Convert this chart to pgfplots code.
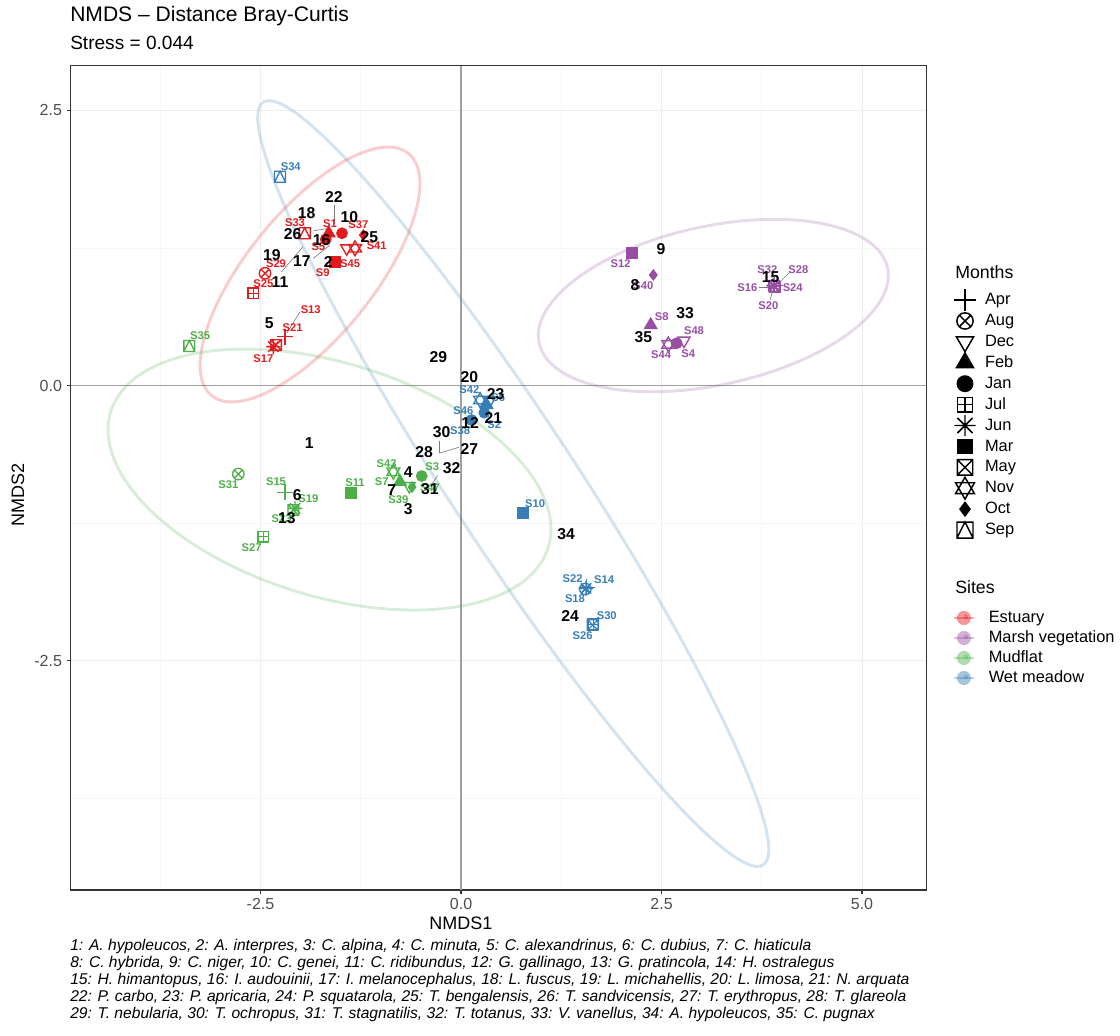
\documentclass[border=0pt]{standalone}
\usepackage{fontspec}
\setmainfont{Liberation Sans}
\usepackage{pgfplots}
\pgfplotsset{compat=1.18}
\usetikzlibrary{plotmarks}

\definecolor{cEst}{RGB}{228,26,28}
\definecolor{cMar}{RGB}{152,78,163}
\definecolor{cMud}{RGB}{77,175,74}
\definecolor{cWet}{RGB}{55,126,184}
\definecolor{gridc}{RGB}{237,237,237}
\definecolor{gridm}{RGB}{246,246,246}
\definecolor{g20}{RGB}{51,51,51}
\definecolor{g30}{RGB}{77,77,77}
\definecolor{refc}{RGB}{160,160,160}
\definecolor{segc}{RGB}{120,120,120}

\pgfdeclareplotmark{boxplus}{%
  \pgfpathrectangle{\pgfqpoint{-\pgfplotmarksize}{-\pgfplotmarksize}}{\pgfqpoint{2\pgfplotmarksize}{2\pgfplotmarksize}}%
  \pgfpathmoveto{\pgfqpoint{-\pgfplotmarksize}{0pt}}\pgfpathlineto{\pgfqpoint{\pgfplotmarksize}{0pt}}%
  \pgfpathmoveto{\pgfqpoint{0pt}{-\pgfplotmarksize}}\pgfpathlineto{\pgfqpoint{0pt}{\pgfplotmarksize}}%
  \pgfusepathqstroke}
\pgfdeclareplotmark{boxtimes}{%
  \pgfpathrectangle{\pgfqpoint{-\pgfplotmarksize}{-\pgfplotmarksize}}{\pgfqpoint{2\pgfplotmarksize}{2\pgfplotmarksize}}%
  \pgfpathmoveto{\pgfqpoint{-\pgfplotmarksize}{-\pgfplotmarksize}}\pgfpathlineto{\pgfqpoint{\pgfplotmarksize}{\pgfplotmarksize}}%
  \pgfpathmoveto{\pgfqpoint{-\pgfplotmarksize}{\pgfplotmarksize}}\pgfpathlineto{\pgfqpoint{\pgfplotmarksize}{-\pgfplotmarksize}}%
  \pgfusepathqstroke}
\pgfdeclareplotmark{boxtri}{%
  \pgfpathrectangle{\pgfqpoint{-\pgfplotmarksize}{-\pgfplotmarksize}}{\pgfqpoint{2\pgfplotmarksize}{2\pgfplotmarksize}}%
  \pgfpathmoveto{\pgfqpoint{-\pgfplotmarksize}{-\pgfplotmarksize}}\pgfpathlineto{\pgfqpoint{0pt}{\pgfplotmarksize}}\pgfpathlineto{\pgfqpoint{\pgfplotmarksize}{-\pgfplotmarksize}}%
  \pgfusepathqstroke}
\pgfdeclareplotmark{tridown}{%
  \pgfpathmoveto{\pgfqpointpolar{-90}{\pgfplotmarksize}}%
  \pgfpathlineto{\pgfqpointpolar{30}{\pgfplotmarksize}}%
  \pgfpathlineto{\pgfqpointpolar{150}{\pgfplotmarksize}}%
  \pgfpathclose\pgfusepathqstroke}
\pgfdeclareplotmark{david}{%
  \pgfpathmoveto{\pgfqpointpolar{90}{\pgfplotmarksize}}%
  \pgfpathlineto{\pgfqpointpolar{210}{\pgfplotmarksize}}%
  \pgfpathlineto{\pgfqpointpolar{330}{\pgfplotmarksize}}%
  \pgfpathclose
  \pgfpathmoveto{\pgfqpointpolar{-90}{\pgfplotmarksize}}%
  \pgfpathlineto{\pgfqpointpolar{30}{\pgfplotmarksize}}%
  \pgfpathlineto{\pgfqpointpolar{150}{\pgfplotmarksize}}%
  \pgfpathclose\pgfusepathqstroke}
\pgfdeclareplotmark{ast8}{%
  \pgfpathmoveto{\pgfqpointpolar{0}{\pgfplotmarksize}}\pgfpathlineto{\pgfqpointpolar{180}{\pgfplotmarksize}}%
  \pgfpathmoveto{\pgfqpointpolar{45}{\pgfplotmarksize}}\pgfpathlineto{\pgfqpointpolar{225}{\pgfplotmarksize}}%
  \pgfpathmoveto{\pgfqpointpolar{90}{\pgfplotmarksize}}\pgfpathlineto{\pgfqpointpolar{270}{\pgfplotmarksize}}%
  \pgfpathmoveto{\pgfqpointpolar{135}{\pgfplotmarksize}}\pgfpathlineto{\pgfqpointpolar{315}{\pgfplotmarksize}}%
  \pgfusepathqstroke}

\pgfplotsset{
  mApr/.style={mark=+, mark size=6pt},
  mAug/.style={mark=otimes, mark size=4.3pt},
  mDec/.style={mark=tridown, mark size=5.2pt},
  mFeb/.style={mark=triangle*, mark size=5.2pt},
  mJan/.style={mark=*, mark size=3.9pt},
  mJul/.style={mark=boxplus, mark size=4pt},
  mJun/.style={mark=ast8, mark size=5.5pt},
  mMar/.style={mark=square*, mark size=3.9pt},
  mMay/.style={mark=boxtimes, mark size=4pt},
  mNov/.style={mark=david, mark size=5.6pt},
  mOct/.style={mark=diamond*, mark size=3.7pt},
  mSep/.style={mark=boxtri, mark size=4.1pt},
  sEst/.style={color=cEst},
  sMar/.style={color=cMar},
  sMud/.style={color=cMud},
  sWet/.style={color=cWet},
}
\newcommand\mpt[4]{\addplot[only marks, line width=1pt, #1, #2, forget plot] coordinates {(#3,#4)};}
\newcommand\seg[4]{\addplot[segc, line width=0.45pt, forget plot] coordinates {(#1,#2) (#3,#4)};}
\newcommand\PX[2]{({(#1-70.7)*0.75pt},{(890-#2)*0.75pt})}
\newcommand\sitefont{\bfseries\fontsize{8.4}{9}\selectfont}
\newcommand\spfont{\bfseries\fontsize{11.8}{13}\selectfont}

\begin{document}
\begin{tikzpicture}
\useasboundingbox \PX{0}{0} rectangle \PX{1120}{1035};
\begin{axis}[
  at={(0pt,0pt)}, anchor=south west,
  scale only axis, width=641.85pt, height=618.2pt,
  xmin=-4.867, xmax=5.804, ymin=-4.586, ymax=2.907,
  xtick={-2.5,0,2.5,5}, xticklabels={-2.5,0.0,2.5,5.0},
  ytick={-2.5,0,2.5}, yticklabels={-2.5,0.0,2.5},
  minor xtick={-3.75,-1.25,1.25,3.75}, minor ytick={-3.75,-1.25,1.25},
  grid=both,
  major grid style={gridc, line width=0.75pt},
  minor grid style={gridm, line width=0.45pt},
  axis line style={g20, line width=0.8pt},
  tick align=outside, tick pos=left,
  major tick length=3pt, minor tick length=0pt,
  tick style={g20, line width=0.8pt},
  tick label style={font=\fontsize{12}{14}\selectfont, text=g30},
  xlabel={NMDS1}, ylabel={NMDS2},
  label style={font=\fontsize{13.5}{15}\selectfont},
  xlabel style={at={(axis description cs:0.456,-0.040)}, anchor=center},
  ylabel style={at={(axis description cs:-0.0616,0.479)}, anchor=center},
  legend style={at={(axis description cs:1.0333,0.7284)}, anchor=north west,
    draw=none, fill=none, inner sep=0pt, outer sep=0pt, row sep=0pt, column sep=7.5pt,
    nodes={inner sep=0pt, minimum height=15.68pt, font=\fontsize{12.3}{14}\selectfont}},
  legend cell align=left,
  legend image code/.code={\path[draw=none, fill=none] (0pt,-3pt) rectangle (15pt,3pt);
    \begin{pgfinterruptboundingbox}\path[#1, draw=none, fill=none] plot[only marks] coordinates {(7.5pt,0pt)};\end{pgfinterruptboundingbox}},
]
% legend entries (Months)
\addlegendimage{only marks, black, line width=1.1pt, mark=+, mark size=8.3pt}\addlegendentry{Apr}
\addlegendimage{only marks, black, line width=1.1pt, mark=otimes, mark size=6.1pt}\addlegendentry{Aug}
\addlegendimage{only marks, black, line width=1.1pt, mark=tridown, mark size=7.4pt}\addlegendentry{Dec}
\addlegendimage{only marks, black, line width=1.1pt, mark=triangle*, mark size=7.4pt}\addlegendentry{Feb}
\addlegendimage{only marks, black, line width=1.1pt, mark=*, mark size=5.8pt}\addlegendentry{Jan}
\addlegendimage{only marks, black, line width=1.1pt, mark=boxplus, mark size=5.5pt}\addlegendentry{Jul}
\addlegendimage{only marks, black, line width=1.1pt, mark=ast8, mark size=8pt}\addlegendentry{Jun}
\addlegendimage{only marks, black, line width=1.1pt, mark=square*, mark size=5.2pt}\addlegendentry{Mar}
\addlegendimage{only marks, black, line width=1.1pt, mark=boxtimes, mark size=5.8pt}\addlegendentry{May}
\addlegendimage{only marks, black, line width=1.1pt, mark=david, mark size=8.2pt}\addlegendentry{Nov}
\addlegendimage{only marks, black, line width=1.1pt, mark=diamond*, mark size=5pt}\addlegendentry{Oct}
\addlegendimage{only marks, black, line width=1.1pt, mark=boxtri, mark size=6pt}\addlegendentry{Sep}

% reference lines
\addplot[refc, line width=0.8pt, forget plot] coordinates {(0,-4.586) (0,2.907)};
\addplot[refc, line width=0.8pt, forget plot] coordinates {(-4.867,0) (5.804,0)};

% confidence ellipses
\draw[cEst, opacity=0.22, line width=2.2pt] (axis cs:-1.883,1.009) ellipse [x radius=117pt, y radius=47.25pt, rotate=50.9];
\draw[cWet, opacity=0.22, line width=2.2pt] (axis cs:0.651,-0.891) ellipse [x radius=342pt, y radius=47.25pt, rotate=-56.75];
\draw[cMud, opacity=0.22, line width=2.2pt] (axis cs:-1.640,-0.855) ellipse [x radius=171.75pt, y radius=87.5pt, rotate=-17.25];
\draw[cMar, opacity=0.22, line width=2.2pt] (axis cs:3.146,0.727) ellipse [x radius=133.65pt, y radius=59.5pt, rotate=12.2];

% leader segments
\seg{-1.584}{1.64}{-1.584}{1.47}
\seg{-1.842}{1.407}{-1.633}{1.429}
\seg{-2.236}{1.035}{-1.97}{1.262}
\seg{-1.842}{1.156}{-1.633}{1.277}
\seg{-2.007}{0.671}{-2.173}{0.475}
\seg{-0.268}{-0.615}{-0.268}{-0.502}
\seg{-0.268}{-0.615}{-0.027}{-0.561}
\seg{-0.291}{-0.819}{-0.378}{-0.909}
\seg{4.102}{1.032}{3.953}{0.923}
\seg{3.72}{0.895}{3.86}{0.895}
\seg{3.853}{0.777}{3.890}{0.868}

% Estuary
\mpt{sEst}{mSep}{-1.949}{1.384}
\mpt{sEst}{mFeb}{-1.650}{1.384}
\mpt{sEst}{mJan}{-1.484}{1.384}
\mpt{sEst}{mJan}{-1.687}{1.329}
\mpt{sEst}{mOct}{-1.218}{1.368}
\mpt{sEst}{mDec}{-1.425}{1.247}
\mpt{sEst}{mNov}{-1.322}{1.247}
\mpt{sEst}{mMar}{-1.571}{1.125}
\mpt{sEst}{mAug}{-2.444}{1.020}
\mpt{sEst}{mJul}{-2.590}{0.838}
\mpt{sEst}{mJun}{-2.340}{0.353}
\mpt{sEst}{mApr}{-2.195}{0.444}
\mpt{sEst}{mMay}{-2.307}{0.368}
% Marsh vegetation
\mpt{sMar}{mMar}{2.128}{1.202}
\mpt{sMar}{mOct}{2.398}{1.005}
\mpt{sMar}{mFeb}{2.365}{0.55}
\mpt{sMar}{mNov}{2.585}{0.374}
\mpt{sMar}{mJan}{2.689}{0.384}
\mpt{sMar}{mDec}{2.780}{0.408}
\mpt{sMar}{mJun}{3.90}{0.91}
\mpt{sMar}{mJul}{3.91}{0.90}
\mpt{sMar}{mMay}{3.905}{0.905}
\mpt{sMar}{mAug}{3.90}{0.90}
\mpt{sMar}{mApr}{3.91}{0.91}
% Mudflat
\mpt{sMud}{mSep}{-3.388}{0.359}
\mpt{sMud}{mAug}{-2.777}{-0.805}
\mpt{sMud}{mApr}{-2.195}{-0.971}
\mpt{sMud}{mJun}{-2.070}{-1.117}
\mpt{sMud}{mMay}{-2.091}{-1.132}
\mpt{sMud}{mJul}{-2.465}{-1.375}
\mpt{sMud}{mMar}{-1.375}{-0.975}
\mpt{sMud}{mNov}{-0.844}{-0.784}
\mpt{sMud}{mFeb}{-0.761}{-0.875}
\mpt{sMud}{mDec}{-0.645}{-0.914}
\mpt{sMud}{mJan}{-0.490}{-0.823}
\mpt{sMud}{mOct}{-0.611}{-0.923}
% Wet meadow
\mpt{sWet}{mSep}{-2.257}{1.898}
\mpt{sWet}{mNov}{0.237}{-0.132}
\mpt{sWet}{mDec}{0.362}{-0.132}
\mpt{sWet}{mFeb}{0.32}{-0.177}
\mpt{sWet}{mJan}{0.133}{-0.314}
\mpt{sWet}{mJan}{0.291}{-0.247}
\mpt{sWet}{mMar}{0.777}{-1.156}
\mpt{sWet}{mJun}{1.559}{-1.844}
\mpt{sWet}{mApr}{1.565}{-1.835}
\mpt{sWet}{mAug}{1.55}{-1.85}
\mpt{sWet}{mMay}{1.642}{-2.177}
\mpt{sWet}{mJul}{1.648}{-2.17}

% site labels
\addplot[only marks, mark=*, mark size=0pt, mark options={draw=none, fill=none}, forget plot,
  nodes near coords, point meta=explicit symbolic,
  every node near coord/.append style={anchor=center, inner sep=0pt, font=\sitefont, text=cEst}]
  table[meta=lab]{
x y lab
-2.07 1.48 S33
-1.633 1.475 S1
-1.28 1.459 S37
-1.779 1.262 S5
-1.051 1.268 S41
-1.384 1.111 S45
-1.725 1.026 S9
-2.307 1.105 S29
-2.465 0.923 S25
-1.874 0.693 S13
-2.099 0.529 S21
-2.465 0.247 S17
};
\addplot[only marks, mark=*, mark size=0pt, mark options={draw=none, fill=none}, forget plot,
  nodes near coords, point meta=explicit symbolic,
  every node near coord/.append style={anchor=center, inner sep=0pt, font=\sitefont, text=cMar}]
  table[meta=lab]{
x y lab
1.991 1.105 S12
2.273 0.907 S40
2.502 0.626 S8
2.494 0.277 S44
2.834 0.286 S4
2.905 0.498 S48
3.819 1.056 S32
4.206 1.056 S28
3.570 0.889 S16
4.136 0.889 S24
3.832 0.723 S20
};
\addplot[only marks, mark=*, mark size=0pt, mark options={draw=none, fill=none}, forget plot,
  nodes near coords, point meta=explicit symbolic,
  every node near coord/.append style={anchor=center, inner sep=0pt, font=\sitefont, text=cMud}]
  table[meta=lab]{
x y lab
-3.254 0.45 S35
-2.902 -0.905 S31
-2.307 -0.874 S15
-1.904 -1.026 S19
-2.236 -1.207 S23
-2.610 -1.475 S27
-1.322 -0.884 S11
-0.927 -0.708 S43
-0.989 -0.875 S7
-0.782 -1.035 S39
-0.358 -0.738 S3
-0.387 -0.932 S47
};
\addplot[only marks, mark=*, mark size=0pt, mark options={draw=none, fill=none}, forget plot,
  nodes near coords, point meta=explicit symbolic,
  every node near coord/.append style={anchor=center, inner sep=0pt, font=\sitefont, text=cWet}]
  table[meta=lab]{
x y lab
-2.123 1.989 S34
0.104 -0.035 S42
0.465 -0.107 S6
0.029 -0.229 S46
0.415 -0.353 S2
-0.012 -0.411 S38
0.923 -1.071 S10
1.392 -1.753 S22
1.783 -1.762 S14
1.421 -1.935 S18
1.817 -2.093 S30
1.517 -2.275 S26
};
% species labels
\addplot[only marks, mark=*, mark size=0pt, mark options={draw=none, fill=none}, forget plot,
  nodes near coords, point meta=explicit symbolic,
  every node near coord/.append style={anchor=center, inner sep=0pt, font=\spfont, text=black}]
  table[meta=lab]{
x y lab
-1.584 1.716 22
-1.924 1.565 18
-1.393 1.535 10
-2.099 1.377 26
-1.737 1.323 16
-1.143 1.347 25
-2.360 1.186 19
-1.986 1.135 17
-1.655 1.126 2
-2.257 0.944 11
-2.390 0.565 5
-0.283 0.256 29
0.104 0.074 20
0.431 -0.082 23
0.403 -0.298 21
0.112 -0.338 12
-0.241 -0.42 30
0.104 -0.58 27
-0.461 -0.602 28
-0.116 -0.753 32
-1.891 -0.526 1
-0.657 -0.784 4
-0.864 -0.95 7
-0.387 -0.944 31
-0.657 -1.125 3
-2.041 -0.995 6
-2.173 -1.207 13
1.309 -1.353 34
1.359 -2.095 24
2.494 1.238 9
2.170 0.914 8
2.793 0.662 33
2.273 0.444 35
3.861 0.989 15
};
\end{axis}

% second (hidden) axis carrying the Sites legend
\begin{axis}[
  at={(0pt,0pt)}, anchor=south west,
  scale only axis, width=641.85pt, height=618.2pt,
  xmin=0, xmax=1, ymin=0, ymax=1, hide axis,
  legend style={at={(axis description cs:1.031,0.3421)}, anchor=north west,
    draw=none, fill=none, inner sep=0pt, outer sep=0pt, row sep=0pt, column sep=10.5pt,
    nodes={inner sep=0pt, minimum height=15pt, font=\fontsize{12.3}{14}\selectfont}},
  legend cell align=left,
  legend image code/.code={\path[draw=none, fill=none] (0pt,-3pt) rectangle (15pt,3pt);
    \fill[#1, draw=none, fill opacity=0.45] (7.5pt,0pt) circle (5.3pt);
    \draw[#1, fill=none, opacity=0.35, line width=1.3pt] (0pt,0pt) -- (15pt,0pt);
    \node[#1, draw=none, fill=none, opacity=0.5, inner sep=0pt, font=\bfseries\fontsize{6}{6}\selectfont] at (7.5pt,0pt) {a};},
]
\addlegendimage{cEst}\addlegendentry{Estuary}
\addlegendimage{cMar}\addlegendentry{Marsh vegetation}
\addlegendimage{cMud}\addlegendentry{Mudflat}
\addlegendimage{cWet}\addlegendentry{Wet meadow}
\end{axis}

% titles
\node[anchor=base west, inner sep=0pt, font=\fontsize{15.8}{17}\selectfont] at \PX{70}{22} {NMDS – Distance Bray-Curtis};
\node[anchor=base west, inner sep=0pt, font=\fontsize{14.3}{15}\selectfont] at \PX{70}{50} {Stress = 0.044};
\node[anchor=base west, inner sep=0pt, font=\fontsize{13.3}{15}\selectfont] at \PX{955}{279} {Months};
\node[anchor=base west, inner sep=0pt, font=\fontsize{13.3}{15}\selectfont] at \PX{955}{594} {Sites};
% caption
\begin{scope}[every node/.style={anchor=base west, inner sep=0pt, font=\itshape\fontsize{11.7}{13}\selectfont}]
\node at \PX{70}{950} {1: A. hypoleucos, 2: A. interpres, 3: C. alpina, 4: C. minuta, 5: C. alexandrinus, 6: C. dubius, 7: C. hiaticula};
\node at \PX{70}{967} {8: C. hybrida, 9: C. niger, 10: C. genei, 11: C. ridibundus, 12: G. gallinago, 13: G. pratincola, 14: H. ostralegus};
\node at \PX{70}{984} {15: H. himantopus, 16: I. audouinii, 17: I. melanocephalus, 18: L. fuscus, 19: L. michahellis, 20: L. limosa, 21: N. arquata};
\node at \PX{70}{1001} {22: P. carbo, 23: P. apricaria, 24: P. squatarola, 25: T. bengalensis, 26: T. sandvicensis, 27: T. erythropus, 28: T. glareola};
\node at \PX{70}{1018} {29: T. nebularia, 30: T. ochropus, 31: T. stagnatilis, 32: T. totanus, 33: V. vanellus, 34: A. hypoleucos, 35: C. pugnax};
\end{scope}
\end{tikzpicture}
\end{document}
